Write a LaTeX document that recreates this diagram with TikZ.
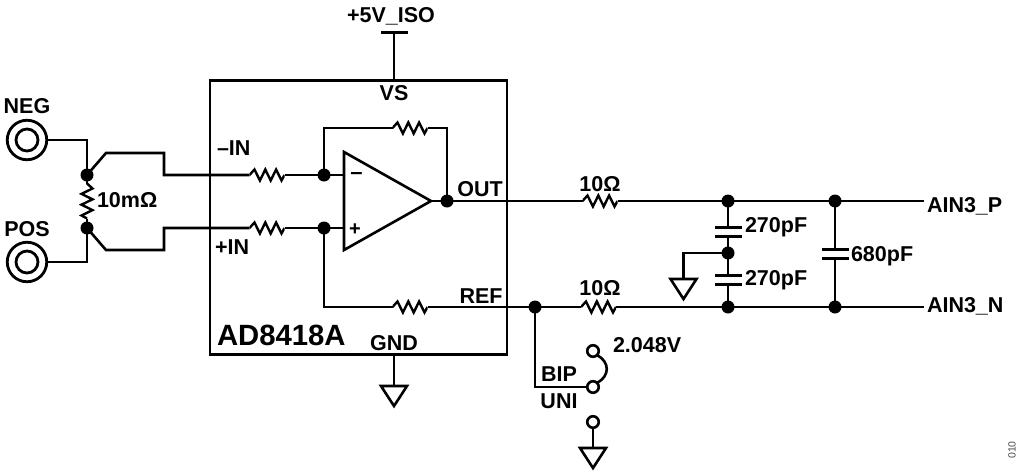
\documentclass[tikz,border=0pt]{standalone}
\usepackage{fontspec}
\setmainfont{Liberation Sans}
\usetikzlibrary{shapes.geometric}
\tikzset{
  x=1pt,y=-1pt,
  wire/.style={line width=2.6pt,line join=miter,line cap=butt},
  lbl/.style={font=\fontsize{21.5}{21.5}\selectfont\bfseries,inner sep=0pt,outer sep=0pt},
  big/.style={font=\fontsize{29.3}{29.3}\selectfont\bfseries,inner sep=0pt,outer sep=0pt},
  tiny/.style={font=\fontsize{10.5}{10.5}\selectfont,inner sep=0pt,text=black!70,rotate=90},
  junction/.style={circle,fill=black,minimum size=13pt,inner sep=0pt,outer sep=0pt},
  pin/.style={circle,draw=black,line width=2.6pt,fill=white,minimum size=11.5pt,inner sep=0pt,outer sep=0pt},
  ring/.style={circle,draw=black,line width=2.8pt,inner sep=0pt,outer sep=0pt},
  plate/.style={rectangle,fill=black,minimum height=3pt,minimum width=27pt,inner sep=0pt,outer sep=0pt},
  resistor/.style={rectangle,minimum width=35pt,minimum height=16pt,inner sep=0pt,outer sep=0pt,
    path picture={\draw[line width=2.4pt,line join=miter]
      (path picture bounding box.west) -- ++(5pt,5.5pt)
      -- ++(5.4pt,-11pt) -- ++(5.4pt,11pt) -- ++(5.4pt,-11pt) -- ++(5.4pt,11pt) -- ++(5.4pt,-11pt) -- ++(3pt,5.5pt);}},
  resistorv/.style={rectangle,minimum width=16pt,minimum height=35pt,inner sep=0pt,outer sep=0pt,
    path picture={\draw[line width=2.4pt,line join=miter]
      (path picture bounding box.north) -- ++(5.5pt,-5pt)
      -- ++(-11pt,-5.4pt) -- ++(11pt,-5.4pt) -- ++(-11pt,-5.4pt) -- ++(11pt,-5.4pt) -- ++(-11pt,-5.4pt) -- ++(5.5pt,-3pt);}},
  ground/.style={isosceles triangle,isosceles triangle apex angle=66,shape border rotate=-90,draw=black,line width=2.6pt,
    minimum height=20pt,minimum width=26pt,inner sep=0pt,outer sep=0pt},
  opamp/.style={isosceles triangle,isosceles triangle apex angle=58.7,shape border rotate=0,draw=black,line width=2.6pt,
    minimum height=87pt,minimum width=98pt,inner sep=0pt,outer sep=0pt,isosceles triangle stretches},
}
\begin{document}
\begin{tikzpicture}
\useasboundingbox (0,0) rectangle (1024,471);
% chip
\node[rectangle,draw=black,line width=2.8pt,minimum width=297pt,minimum height=274pt,inner sep=0pt,outer sep=0pt] (chip) at (358.5,217.5) {};
% terminals
\node[ring,minimum size=39.5pt] (neg) at (27,140) {};
\node[ring,minimum size=22pt] (negi) at (27,140) {};
\node[ring,minimum size=39.5pt] (pos) at (27,262) {};
\node[ring,minimum size=22pt] (posi) at (27,262) {};
% junctions
\node[junction] (ja) at (87,175) {};
\node[junction] (jb) at (87,228) {};
\node[junction] (jm) at (324,175) {};
\node[junction] (jp) at (324,228) {};
\node[junction] (jo) at (447,201) {};
\node[junction] (jr) at (535,307) {};
\node[junction] (jc1) at (728,201) {};
\node[junction] (jc2) at (835,201) {};
\node[junction] (jc3) at (728,253) {};
\node[junction] (jc4) at (728,307) {};
\node[junction] (jc5) at (835,307) {};
% resistors
\node[resistorv] (rs) at (87,201) {};
\node[resistor] (rm) at (267,175) {};
\node[resistor] (rp) at (267,228) {};
\node[resistor] (rf) at (410,128) {};
\node[resistor] (rr) at (410,307) {};
\node[resistor] (ro) at (600,201) {};
\node[resistor] (rn) at (598.5,307) {};
% op amp
\node[opamp,anchor=apex] (op) at (431,201) {};
\coordinate (opm) at (344,175);
\coordinate (opp) at (344,228);
\node[lbl,font=\fontsize{22}{22}\selectfont\bfseries] (mn) at (356.5,176) {–};
\node[lbl,font=\fontsize{20}{20}\selectfont\bfseries] (pl) at (355,230) {+};
% caps
\node[plate] (c1a) at (728,227) {};
\node[plate] (c1b) at (728,236) {};
\node[plate] (c2a) at (728,275) {};
\node[plate] (c2b) at (728,284) {};
\node[plate] (c3a) at (835,249.5) {};
\node[plate] (c3b) at (835,258.5) {};
% grounds
\node[ground,anchor=north] (g1) at (394,386) {};
\node[ground,anchor=north] (g2) at (683.5,279) {};
\node[ground,anchor=north] (g3) at (593,448) {};
% supply
\node[plate] (vs) at (394,32) {};
% switch pins
\node[pin] (s1) at (593,351) {};
\node[pin] (s2) at (593,387) {};
\node[pin] (s3) at (593,422) {};
% free ends
\coordinate (ainp) at (924,201);
\coordinate (ainn) at (924,307);
\coordinate (jog1) at (106,153);
\coordinate (jog2) at (164,153);
\coordinate (jog3) at (164,175);
\coordinate (jog4) at (106,250);
\coordinate (jog5) at (164,250);
\coordinate (jog6) at (164,228);
% wires
\draw[wire] (neg.east) -- (87,140) -- (ja.center);
\draw[wire] (pos.east) -- (87,262) -- (jb.center);
\draw[wire] (ja.center) -- (rs.north);
\draw[wire] (rs.south) -- (jb.center);
\draw[wire] (ja.center) -- (jog1) -- (jog2) -- (jog3) -- (rm.west);
\draw[wire] (jb.center) -- (jog4) -- (jog5) -- (jog6) -- (rp.west);
\draw[wire] (rm.east) -- (jm.center) -- (opm);
\draw[wire] (rp.east) -- (jp.center) -- (opp);
\draw[wire] (jm.center) |- (rf.west);
\draw[wire] (rf.east) -| (jo.center);
\draw[wire] (op.apex) -- (jo.center) -- (ro.west);
\draw[wire] (ro.east) -- (jc1.center) -- (jc2.center) -- (ainp);
\draw[wire] (jp.center) |- (rr.west);
\draw[wire] (rr.east) -- (jr.center) -- (rn.west);
\draw[wire] (rn.east) -- (jc4.center) -- (jc5.center) -- (ainn);
\draw[wire] (jc1.center) -- (c1a.center);
\draw[wire] (c1b.center) -- (jc3.center) -- (c2a.center);
\draw[wire] (c2b.center) -- (jc4.center);
\draw[wire] (jc2.center) -- (c3a.center);
\draw[wire] (c3b.center) -- (jc5.center);
\draw[wire] (jc3.center) -| (g2.north);
\draw[wire] (chip.south -| g1.north) -- (g1.north);
\draw[wire] (vs.center) -- (chip.north -| vs.center);
\draw[wire] (jr.center) |- (s2.west);
\draw[wire] (s3.south) -- (g3.north);
\draw[wire] (s1.south east) .. controls (610,362) and (610,376) .. (s2.north east);
% labels
\node[lbl,anchor=base] (lneg) at (27,113) {NEG};
\node[lbl,anchor=base] (lpos) at (27,236) {POS};
\node[lbl,anchor=base west] (lr) at (97,207) {10mΩ};
\node[lbl,anchor=base west] (lmi) at (217,155) {–IN};
\node[lbl,anchor=base west] (lpi) at (215,254) {+IN};
\node[lbl,anchor=base] (l5) at (391,22) {+5V\_ISO};
\node[lbl,anchor=base] (lvs) at (394,100) {VS};
\node[lbl,anchor=base] (lout) at (480,196) {OUT};
\node[lbl,anchor=base] (lref) at (481,303) {REF};
\node[lbl,anchor=base] (lgnd) at (394,350) {GND};
\node[big,anchor=base west] (lchip) at (217,345) {AD8418A};
\node[lbl,anchor=base] (lro) at (600,191) {10Ω};
\node[lbl,anchor=base] (lrn) at (600,295) {10Ω};
\node[lbl,anchor=base west] (lc1) at (745,232) {270pF};
\node[lbl,anchor=base west] (lc2) at (745,285) {270pF};
\node[lbl,anchor=base west] (lc3) at (851,261) {680pF};
\node[lbl,anchor=base west] (lp) at (927,212) {AIN3\_P};
\node[lbl,anchor=base west] (ln) at (927,312) {AIN3\_N};
\node[lbl,anchor=base west] (lv) at (613,352) {2.048V};
\node[lbl,anchor=base] (lbip) at (559,381) {BIP};
\node[lbl,anchor=base] (luni) at (559,408) {UNI};
\node[tiny] (lid) at (1012,450) {010};
\end{tikzpicture}
\end{document}
